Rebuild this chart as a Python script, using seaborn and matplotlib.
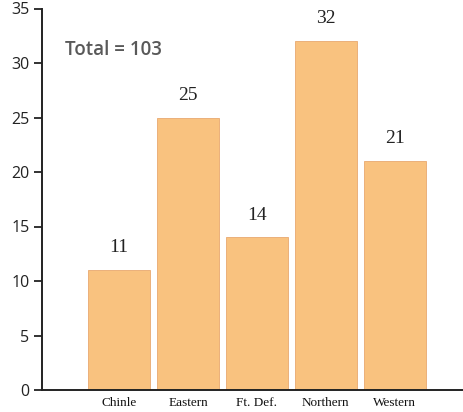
import matplotlib
matplotlib.use("Agg")
import matplotlib.pyplot as plt
import seaborn as sns
import pandas as pd

categories = ["Chinle", "Eastern", "Ft. Def.", "Northern", "Western"]
counts = [11, 25, 14, 32, 21]
total_label = "Total = 103"
y_ticks = [0, 5, 10, 15, 20, 25, 30, 35]

sns.set_style("white")
df = pd.DataFrame({"cat": categories, "n": counts})

fig = plt.figure(figsize=(4.63, 4.12), dpi=100)
ax = fig.add_axes([42/463, 22/412, 1 - 42/463, (390 - 8.5)/412])

sns.barplot(data=df, x="cat", y="n", ax=ax, color="#F9C27F", saturation=1,
            width=0.9, edgecolor="#E8A870", linewidth=0.6)

for i, v in enumerate(counts):
    ax.annotate(str(v), (i, v), xytext=(0, 10), textcoords="offset points",
                ha="center", va="bottom", fontsize=14, family="Liberation Serif",
                color="#222222")

ax.set_xlim(-1.12, 4.99)
ax.set_ylim(0, 35)
ax.set_yticks(y_ticks)
ax.set_yticklabels([str(t) for t in y_ticks], fontsize=11.5, family="Open Sans", color="#222222")
ax.set_xticks(range(len(categories)))
ax.set_xticklabels(categories, fontsize=9.5, family="Liberation Serif", color="#111111")
ax.tick_params(axis="y", direction="out", length=6, width=1.3, left=True, pad=3, color="#222222")
ax.tick_params(axis="x", length=0, pad=5)
ax.set_xlabel("")
ax.set_ylabel("")
for s in ["top", "right"]:
    ax.spines[s].set_visible(False)
for s in ["left", "bottom"]:
    ax.spines[s].set_linewidth(1.4)
    ax.spines[s].set_color("#222222")

ax.text(-0.78, 31.2, total_label, fontsize=13.5, fontweight="semibold", family="Open Sans",
        color="#595959", ha="left", va="center")

fig.savefig("out.png", dpi=100)
